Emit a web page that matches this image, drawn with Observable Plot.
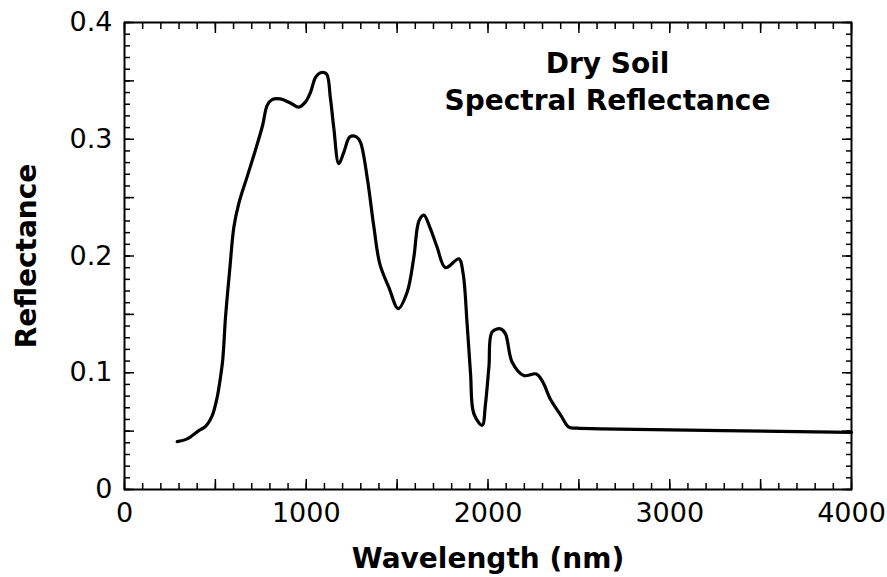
<!DOCTYPE html>
<html>
<head>
<meta charset="utf-8">
<script src="https://cdn.jsdelivr.net/npm/d3@7"></script>
<script src="https://cdn.jsdelivr.net/npm/@observablehq/plot@0.6"></script>
<style>
  html, body { margin: 0; padding: 0; background: #fff; }
  #chart svg { display: block; }
</style>
</head>
<body>
<div id="chart"></div>
<script>
// Wavelength (nm) and reflectance
const wavelength = [290, 345, 409, 446, 482, 510, 528, 541, 556, 580, 602, 629, 675, 721, 760, 785,
  812, 858, 913, 959, 996, 1023, 1051, 1078, 1111, 1133, 1152, 1179, 1207, 1240, 1276, 1298,
  1335, 1372, 1405, 1455, 1506, 1555, 1592, 1620, 1647, 1684, 1720, 1766, 1840, 1863, 1885,
  1904, 1922, 1968, 1986, 2005, 2023, 2069, 2096, 2133, 2197, 2266, 2302, 2344, 2399, 2445,
  2491, 2619, 4000];
const reflectance = [0.041, 0.0434, 0.0505, 0.054, 0.063, 0.079, 0.096, 0.112, 0.148, 0.190, 0.225, 0.245, 0.268, 0.291, 0.312, 0.329,
  0.334, 0.3346, 0.331, 0.3275, 0.332, 0.340, 0.353, 0.357, 0.356, 0.335, 0.309, 0.279, 0.289, 0.302, 0.302, 0.2975,
  0.2675, 0.225, 0.193, 0.173, 0.155, 0.169, 0.199, 0.230, 0.235, 0.223, 0.2075, 0.190, 0.1976, 0.185, 0.142,
  0.099, 0.065, 0.055, 0.073, 0.105, 0.135, 0.1376, 0.1333, 0.109, 0.0976, 0.099, 0.092, 0.077, 0.064, 0.0534,
  0.0525, 0.052, 0.049];

const xLabelTicks = [0, 1000, 2000, 3000, 4000];
const xMajorTicks = [0, 500, 1000, 1500, 2000, 2500, 3000, 3500, 4000];
const xMinorTicks = d3.range(0, 4001, 100);
const yLabelTicks = [0, 0.1, 0.2, 0.3, 0.4];
const yMajorTicks = [0, 0.05, 0.1, 0.15, 0.2, 0.25, 0.3, 0.35, 0.4];
const yMinorTicks = d3.range(0, 41).map(i => i / 100);

const titleText = "Dry Soil\nSpectral Reflectance";
const xTitle = "Wavelength (nm)";
const yTitle = "Reflectance";

const data = wavelength.map((w, i) => ({w, r: reflectance[i]}));

const font = "DejaVu Sans, Verdana, sans-serif";
const minor = 6, major = 10;
const tk = {fill: "none", label: null, strokeWidth: 1.5, stroke: "#000"};

const chart = Plot.plot({
  width: 887,
  height: 577,
  marginLeft: 124,
  marginRight: 36,
  marginTop: 22,
  marginBottom: 88,
  style: {fontFamily: font, color: "#000", background: "#fff"},
  x: {domain: [0, 4000]},
  y: {domain: [0, 0.4]},
  marks: [
    // minor & major ticks, inward, all four sides
    Plot.axisX(xMinorTicks, {...tk, anchor: "bottom", tickSize: -minor}),
    Plot.axisX(xMajorTicks, {...tk, anchor: "bottom", tickSize: -major}),
    Plot.axisX(xMinorTicks, {...tk, anchor: "top", tickSize: -minor}),
    Plot.axisX(xMajorTicks, {...tk, anchor: "top", tickSize: -major}),
    Plot.axisY(yMinorTicks, {...tk, anchor: "left", tickSize: -minor}),
    Plot.axisY(yMajorTicks, {...tk, anchor: "left", tickSize: -major}),
    Plot.axisY(yMinorTicks, {...tk, anchor: "right", tickSize: -minor}),
    Plot.axisY(yMajorTicks, {...tk, anchor: "right", tickSize: -major}),
    // tick labels
    Plot.axisX(xLabelTicks, {anchor: "bottom", tickSize: 0, tickPadding: 13, label: null, fontSize: 27, fill: "#000", tickFormat: d => String(d)}),
    Plot.axisY(yLabelTicks, {anchor: "left", tickSize: 0, tickPadding: 12, label: null, fontSize: 27, fill: "#000", tickFormat: d => d === 0 ? "0" : String(d)}),
    Plot.frame({stroke: "#000", strokeWidth: 2}),
    Plot.line(data, {x: "w", y: "r", stroke: "#000", strokeWidth: 3.2, curve: "catmull-rom"}),
    // titles
    Plot.text([titleText], {frameAnchor: "top", dx: 119.5, dy: 25, lineAnchor: "top", lineHeight: 1.3,
      fontSize: 28, fontWeight: "bold", fill: "#000", textAnchor: "middle"}),
    Plot.text([xTitle], {frameAnchor: "bottom", dy: 59, lineAnchor: "top", fontSize: 28, fontWeight: "bold", fill: "#000", textAnchor: "middle"}),
    Plot.text([yTitle], {frameAnchor: "left", dx: -97, rotate: -90, fontSize: 28, fontWeight: "bold", fill: "#000", textAnchor: "middle", lineAnchor: "middle"})
  ]
});
document.getElementById("chart").appendChild(chart);
</script>
</body>
</html>
